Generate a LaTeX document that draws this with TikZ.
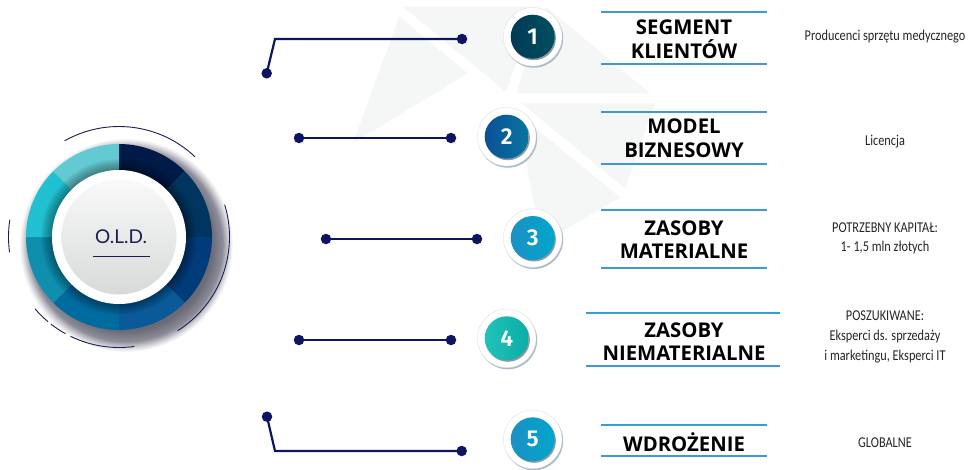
\documentclass[tikz,border=0pt]{standalone}
\usepackage{fontspec}
\setmainfont{Fira Sans}
\newfontfamily\headfont{Open Sans}
\newfontfamily\numfont{Fira Sans SemiBold}
\newfontfamily\sidefont{Carlito}[FakeStretch=0.82]
\newfontfamily\oldfont{Lato}
\usetikzlibrary{calc}
\definecolor{wm}{HTML}{F5F6F6}
\definecolor{navy}{HTML}{0E1560}
\definecolor{rulec}{HTML}{3A9BD5}
\definecolor{arcc}{HTML}{1A1F52}
\definecolor{diska}{HTML}{F8F9F8}
\definecolor{diskb}{HTML}{D8DADA}
\definecolor{ringsh}{HTML}{A8BCC8}
\definecolor{discsh}{HTML}{8C9AA5}
\pgfdeclareradialshading{dropshade}{\pgfpoint{0bp}{0bp}}{rgb(0bp)=(.42,.42,.47); rgb(20bp)=(.42,.42,.47); rgb(22.5bp)=(.55,.55,.6); rgb(24.3bp)=(.9,.9,.91); rgb(25bp)=(1,1,1); rgb(50bp)=(1,1,1)}
\tikzset{
  x=1pt,y=-1pt,
  dotnode/.style={circle,fill=navy,inner sep=0pt,minimum size=10.5pt},
  conn/.style={draw=navy,line width=2.2pt},
  rulel/.style={draw=rulec,line width=1.4pt},
  headtxt/.style={font=\headfont\bfseries\fontsize{20.3}{23.6}\selectfont,align=center,text=black,inner sep=0pt},
  sidetxt/.style={font=\sidefont\fontsize{15}{19}\selectfont,align=center,text=black!85,inner sep=0pt},
  arcl/.style={draw=arcc,line width=.9pt},
  numtxt/.style={font=\numfont\fontsize{23}{23}\selectfont,text=white,inner sep=0pt},
}
\newcommand{\badge}[6]{% name,x,y,num,col1,col2
  \fill[ringsh] (#2+1,#3+1.5) circle[radius=29.5];
  \fill[white] (#2,#3) circle[radius=29.3];
  \draw[black!12,line width=.4pt] (#2,#3) circle[radius=29.3];
  \fill[discsh] (#2+1.2,#3+1.5) circle[radius=22];
  \shade[left color=#5,right color=#6] (#2,#3) circle[radius=22];
  \node[numtxt] (#1) at (#2,#3) {#4};
}
\definecolor{ba}{HTML}{003A55}\definecolor{bb}{HTML}{004F5F}
\definecolor{ca}{HTML}{0A5096}\definecolor{cb}{HTML}{08759F}
\definecolor{da}{HTML}{1C90C4}\definecolor{db}{HTML}{00A6CC}
\definecolor{ea}{HTML}{22C2B8}\definecolor{eb}{HTML}{09AEA6}
\begin{document}
\begin{tikzpicture}
\useasboundingbox (0,0) rectangle (974,469);
\fill[white] (0,0) rectangle (974,469);
% watermark
\fill[wm] (399.3,16.7) -- (467.7,73.3) -- (353,143) -- cycle;
\fill[wm] (403.3,6.7) -- (535.7,6.7) -- (506,91.7) -- cycle;
\fill[wm] (545.7,6.7) -- (650,93.3) -- (516,93.3) -- cycle;
\fill[wm] (521.7,103.3) -- (655,103.3) -- (625,188.3) -- cycle;
\fill[wm] (517,113.3) -- (620,197.3) -- (541.7,243.3) -- cycle;
% drop shadow of main wheel
\shade[shading=dropshade] (126,245) circle[radius=107];
% wheel segments
\def\cx{119}\def\cy{237}
\foreach \a/\b/\c in {90/45/001A47,45/0/00355F,0/-45/003B7A,-45/-90/0A5A9A,-90/-135/006B9F,-135/-180/0F8EAE,180/135/20C0D0,135/90/63C9D2}{
  \definecolor{segc}{HTML}{\c}
  \fill[segc] ($(\cx,\cy)+({93*cos(\a)},{-93*sin(\a)})$)
    arc[start angle=-\a,end angle=-\b,radius=93] -- (\cx,\cy) -- cycle;
}
\foreach \r in {68,69,...,78}{
  \fill[black,fill opacity=.035] (\cx,\cy) circle[radius=\r];
}
\fill[white] (\cx,\cy) circle[radius=67];
\shade[shading angle=45,top color=diska,bottom color=diskb] (\cx,\cy) circle[radius=57.5];
% arcs
\foreach \s/\e in {119.5/46.5,17/-58,-82/-116,-119/-128,-130/-139.5,171/188}{
  \draw[arcl] ($(\cx,\cy)+({110.5*cos(\s)},{-110.5*sin(\s)})$) arc[start angle=-\s,end angle=-\e,radius=110.5];
}
\node[font=\oldfont\fontsize{19}{19}\selectfont,text=arcc,inner sep=0pt] (old) at (121,237) {O.L.D.};
\coordinate (ula) at (92.7,256.7);
\coordinate (ulb) at (150,256.7);
\draw[arcl,line width=1pt] (ula) -- (ulb);
% badges
\badge{n1}{532.7}{36.7}{1}{ba}{bb}
\badge{n2}{506.7}{136.7}{2}{ca}{cb}
\badge{n3}{532.7}{238}{3}{da}{db}
\badge{n4}{506.7}{338.3}{4}{ea}{eb}
\badge{n5}{532.7}{439.3}{5}{da}{db}
% connectors
\node[dotnode] (e1) at (462,39) {};
\node[dotnode] (s1) at (266.7,73.3) {};
\coordinate (k1) at (275,39);
\draw[conn] (s1.center) -- (k1) -- (e1.center);
\node[dotnode] (s2) at (299,138) {};
\node[dotnode] (e2) at (451,138) {};
\draw[conn] (s2) -- (e2);
\node[dotnode] (s3) at (326,239) {};
\node[dotnode] (e3) at (477,239) {};
\draw[conn] (s3) -- (e3);
\node[dotnode] (s4) at (299,340) {};
\node[dotnode] (e4) at (451,340) {};
\draw[conn] (s4) -- (e4);
\node[dotnode] (s5) at (267,416.7) {};
\node[dotnode] (e5) at (461.7,451) {};
\coordinate (k5) at (275,451);
\draw[conn] (s5.center) -- (k5) -- (e5.center);
% rules
\foreach \n/\xa/\xb/\ya/\yb in {1/601/767/12/64,2/601/767/112/164,3/601/767/210/268,4/585.7/780/313/366,5/601/767/425/456}{
  \coordinate (ra\n) at (\xa,\ya);
  \coordinate (rb\n) at (\xb,\ya);
  \coordinate (rc\n) at (\xa,\yb);
  \coordinate (rd\n) at (\xb,\yb);
  \draw[rulel] (ra\n) -- (rb\n);
  \draw[rulel] (rc\n) -- (rd\n);
}
% headings
\node[headtxt] (h1) at (684,39) {SEGMENT\\KLIENTÓW};
\node[headtxt] (h2) at (684,138.5) {MODEL\\BIZNESOWY};
\node[headtxt] (h3) at (684,239.5) {ZASOBY\\MATERIALNE};
\node[headtxt] (h4) at (684,341.5) {ZASOBY\\NIEMATERIALNE};
\node[headtxt] (h5) at (684,442) {WDROŻENIE};
% side texts
\node[sidetxt] (t1) at (885,37) {Producenci sprzętu medycznego};
\node[sidetxt] (t2) at (885,142) {Licencja};
\node[sidetxt] (t3) at (885,238) {POTRZEBNY KAPITAŁ:\\1- 1,5 mln złotych};
\node[sidetxt,font=\sidefont\fontsize{15}{20}\selectfont] (t4) at (885,336.5) {POSZUKIWANE:\\Eksperci ds. sprzedaży\\i marketingu, Eksperci IT};
\node[sidetxt] (t5) at (885,443) {GLOBALNE};
\end{tikzpicture}
\end{document}
